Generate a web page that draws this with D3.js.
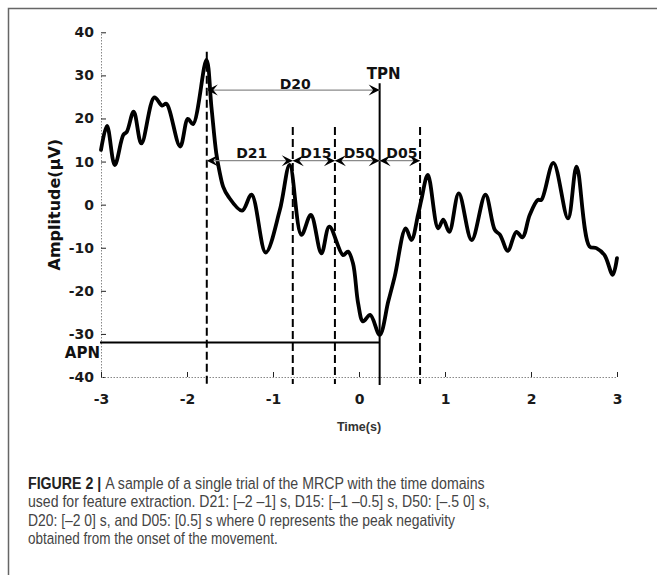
<!DOCTYPE html>
<html>
  <head>
    <meta charset="utf-8">
    <title>MRCP single trial</title>
    <script src="https://cdn.jsdelivr.net/npm/d3@7"></script>
    <style>
      body { margin: 0; background: #fff; }
      .tick text { font-family: "DejaVu Sans", sans-serif; font-weight: bold; font-size: 14px; fill: #1a1a1a; }
      .domain { stroke: #888; stroke-dasharray: 1.5 1.5; }
      .tick line { stroke: #222; }
      .lbl { font-family: "DejaVu Sans", sans-serif; font-weight: bold; font-size: 14px; fill: #111; }
      .caption { font-family: "Liberation Sans", Arial, sans-serif; font-size: 16.5px; fill: #444; }
    </style>
  </head>
  <body>
    <svg id="chart" width="657" height="575"></svg>
    <script>
      // trace: time (s) and amplitude (uV)
      const times = [-3.00, -2.93, -2.84, -2.74, -2.70, -2.62, -2.53, -2.38, -2.29, -2.24,
        -2.08, -1.99, -1.93, -1.774, -1.716, -1.66, -1.62, -1.58, -1.52, -1.36,
        -1.25, -1.085, -0.92, -0.806, -0.67, -0.56, -0.437, -0.345, -0.186, -0.128,
        -0.07, -0.01, 0.047, 0.13, 0.24, 0.34, 0.415, 0.543, 0.61, 0.686,
        0.725, 0.80, 0.92, 0.98, 1.05, 1.16, 1.31, 1.47, 1.58, 1.64,
        1.73, 1.83, 1.90, 1.985, 2.08, 2.12, 2.26, 2.43, 2.53, 2.68,
        2.76, 2.855, 2.95, 3.00];
      const amps = [12.7, 18.3, 9.2, 16.2, 16.9, 21.6, 14.2, 24.9, 23.0, 23.4,
        13.5, 19.9, 18.7, 33.6, 22.7, 12.0, 7.5, 4.2, 1.9, -1.4,
        2.3, -11.1, -1.2, 9.2, -7.0, -2.4, -11.3, -5.1, -11.7, -10.9,
        -13.6, -22.9, -27.1, -25.6, -30.2, -22.5, -16.7, -5.5, -8.2, -2.4,
        1.1, 6.9, -5.5, -3.5, -6.3, 2.6, -8.2, 2.3, -5.9, -7.0,
        -10.7, -6.3, -7.6, -2.4, 1.1, 1.1, 9.7, -3.2, 8.8, -9.7,
        -10.1, -11.7, -16.3, -12.4];

      const timeTicks = [-3, -2, -1, 0, 1, 2, 3];
      const ampTicks = [40, 30, 20, 10, 0, -10, -20, -30, -40];

      // time markers (dashed) and the peak negativity (solid)
      const markerTimes = [-1.77, -0.77, -0.28, 0.71];
      const markerTops = [35.5, 18, 18, 18];
      const tpnTime = 0.24;
      const tpnTop = 28.2;
      const apnAmp = -32;
      const markerBottom = -41.6;

      // time-domain arrows
      const spans = [
        { name: "D20", from: -1.77, to: 0.24, at: 26.6, labelAt: 28 },
        { name: "D21", from: -1.77, to: -0.77, at: 10.2, labelAt: 12 },
        { name: "D15", from: -0.77, to: -0.28, at: 10.2, labelAt: 12 },
        { name: "D50", from: -0.28, to: 0.24, at: 10.2, labelAt: 12 },
        { name: "D05", from: 0.24, to: 0.71, at: 10.2, labelAt: 12 }
      ];

      const captionLines = [
        ["FIGURE 2 | ", "A sample of a single trial of the MRCP with the time domains"],
        ["", "used for feature extraction. D21: [\u20132 \u20131] s, D15: [\u20131 \u20130.5] s, D50: [\u2013.5 0] s,"],
        ["", "D20: [\u20132 0] s, and D05: [0.5] s where 0 represents the peak negativity"],
        ["", "obtained from the onset of the movement."]
      ];
      const captionWidths = [457, 462, 427, 250];

      const svg = d3.select("#chart");

      // frame
      svg.append("rect")
        .attr("x", 8.5).attr("y", 8.5)
        .attr("width", 700).attr("height", 620)
        .attr("fill", "none").attr("stroke", "#666").attr("stroke-width", 1.5);

      const x = d3.scaleLinear().domain([-3, 3]).range([101, 617]);
      const y = d3.scaleLinear().domain([-40, 40]).range([377, 32.3]);

      // arrowhead
      svg.append("defs").append("marker")
        .attr("id", "head")
        .attr("markerUnits", "userSpaceOnUse")
        .attr("viewBox", "-12 -6 13 12")
        .attr("refX", 0).attr("refY", 0)
        .attr("markerWidth", 13).attr("markerHeight", 12)
        .attr("orient", "auto-start-reverse")
        .append("path")
          .attr("d", "M0,0 L-11,-5.5 L-6.5,0 L-11,5.5 Z")
          .attr("fill", "#000");

      // axes
      const fmt = d => String(d);
      svg.append("g")
        .attr("transform", "translate(" + x(-3) + ",0)")
        .call(d3.axisLeft(y).tickValues(ampTicks).tickFormat(fmt)
          .tickSizeInner(-5).tickSizeOuter(0).tickPadding(7));
      svg.append("g")
        .attr("transform", "translate(0," + y(-40) + ")")
        .call(d3.axisBottom(x).tickValues(timeTicks).tickFormat(fmt)
          .tickSizeInner(-5).tickSizeOuter(0).tickPadding(17));

      svg.append("text")
        .attr("transform", "translate(54," + y(0) + ") rotate(-90)")
        .attr("text-anchor", "middle")
        .attr("dominant-baseline", "central")
        .attr("class", "lbl")
        .style("font-size", "16px")
        .text("Amplitude(\u03bcV)");

      svg.append("text")
        .attr("x", x(0)).attr("y", 431)
        .attr("text-anchor", "middle")
        .style("font-family", "'Liberation Sans', Arial, sans-serif")
        .style("font-weight", "bold").style("font-size", "12.5px").style("fill", "#333")
        .text("Time(s)");

      // markers
      svg.selectAll(".marker")
        .data(markerTimes)
        .enter().append("line")
          .attr("class", "marker")
          .attr("x1", d => x(d)).attr("x2", d => x(d))
          .attr("y1", (d, i) => y(markerTops[i])).attr("y2", y(markerBottom))
          .attr("stroke", "#000").attr("stroke-width", 2)
          .attr("stroke-dasharray", "8 4");
      svg.append("line")
        .attr("x1", x(tpnTime)).attr("x2", x(tpnTime))
        .attr("y1", y(tpnTop)).attr("y2", y(markerBottom) + 1)
        .attr("stroke", "#000").attr("stroke-width", 2);
      svg.append("line")
        .attr("x1", x(-3) - 1).attr("x2", x(tpnTime))
        .attr("y1", y(apnAmp)).attr("y2", y(apnAmp))
        .attr("stroke", "#000").attr("stroke-width", 2);

      // trace
      const line = d3.line()
        .x(d => x(d[0]))
        .y(d => y(d[1]))
        .curve(d3.curveCatmullRom.alpha(0.5));
      svg.append("path")
        .attr("d", line(times.map((t, i) => [t, amps[i]])))
        .attr("fill", "none")
        .attr("stroke", "#000")
        .attr("stroke-width", 3.8)
        .attr("stroke-linejoin", "round")
        .attr("stroke-linecap", "round");

      // span arrows
      svg.selectAll(".span")
        .data(spans)
        .enter().append("line")
          .attr("class", "span")
          .attr("x1", d => x(d.from)).attr("x2", d => x(d.to))
          .attr("y1", d => y(d.at)).attr("y2", d => y(d.at))
          .attr("stroke", "#8a8a8a").attr("stroke-width", 1.2)
          .attr("marker-start", "url(#head)")
          .attr("marker-end", "url(#head)");
      svg.selectAll(".spanLabel")
        .data(spans)
        .enter().append("text")
          .attr("class", "lbl")
          .attr("x", d => (x(d.from) + x(d.to)) / 2 + 2)
          .attr("y", d => y(d.labelAt) + 5)
          .attr("text-anchor", "middle")
          .text(d => d.name);

      svg.append("text")
        .attr("class", "lbl").style("font-size", "15px")
        .attr("x", x(tpnTime) + 4).attr("y", 79)
        .attr("text-anchor", "middle")
        .text("TPN");
      svg.append("text")
        .attr("class", "lbl").style("font-size", "15px")
        .attr("x", x(-3) - 1).attr("y", 358)
        .attr("text-anchor", "end")
        .text("APN");

      // caption
      const baselines = [488.5, 507, 525.5, 544];
      captionLines.forEach((parts, i) => {
        const t = svg.append("text").attr("class", "caption");
        if (parts[0]) t.append("tspan").style("font-weight", "bold").style("fill", "#222").text(parts[0]);
        t.append("tspan").text(parts[1]);
        const w = t.node().getComputedTextLength();
        t.attr("transform", "translate(28," + baselines[i] + ") scale(" + (captionWidths[i] / w) + ",1)");
      });
    </script>
  </body>
</html>
